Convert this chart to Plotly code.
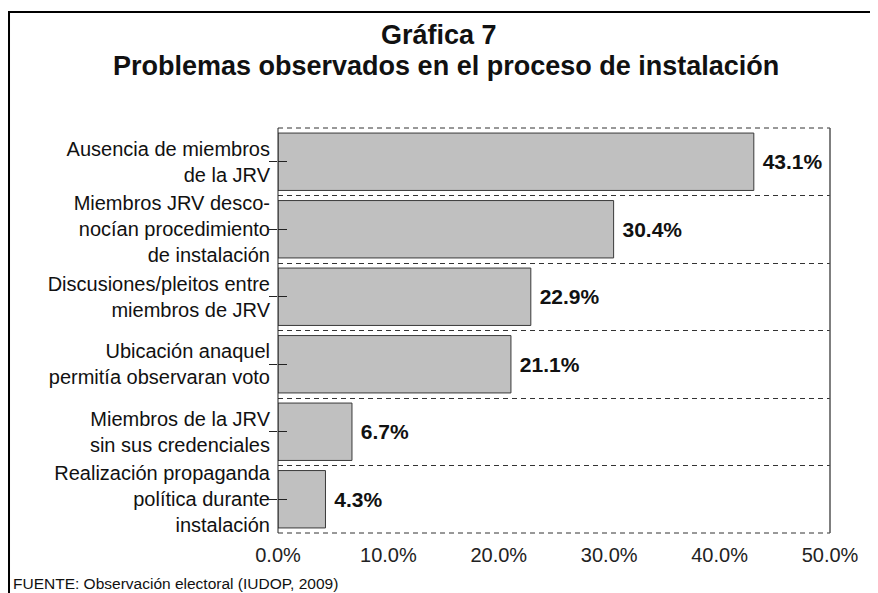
import plotly.graph_objects as go

categorias = [
    "Ausencia de miembros<br>de la JRV",
    "Miembros JRV desco-<br>nocían procedimiento<br>de instalación",
    "Discusiones/pleitos entre<br>miembros de JRV",
    "Ubicación anaquel<br>permitía observaran voto",
    "Miembros de la JRV<br>sin sus credenciales",
    "Realización propaganda<br>política durante<br>instalación",
]
porcentajes = [43.1, 30.4, 22.9, 21.1, 6.7, 4.3]
posiciones = list(range(len(categorias)))
x_ticks = [0, 10, 20, 30, 40, 50]

FONT = "Liberation Sans, Arial, sans-serif"
DASH = dict(color="#333", width=1, dash="5px,4px")

fig = go.Figure()
fig.add_trace(go.Bar(
    x=porcentajes, y=posiciones, orientation="h",
    width=0.85,
    marker=dict(color="#c0c0c0", line=dict(color="#3a3a3a", width=1)),
    text=[f"\u00a0<b>{v:.1f}%</b>" for v in porcentajes],
    textposition="outside",
    textfont=dict(size=21, color="#111", family=FONT),
    cliponaxis=False,
    showlegend=False,
))
# invisible trace so the second axis (inside half of the y ticks) is drawn
fig.add_trace(go.Scatter(x=[None], y=[None], yaxis="y2", showlegend=False, hoverinfo="skip"))

# page body has an 8px margin, so the figure is 8px smaller than the window
fig.update_layout(
    width=870, height=585,
    margin=dict(l=270, r=48, t=120, b=60),
    paper_bgcolor="white", plot_bgcolor="white",
    font=dict(family=FONT, color="#111"),
    xaxis=dict(
        range=[0, 50], tickvals=x_ticks,
        ticktext=[f"{v:.1f}%" for v in x_ticks],
        showgrid=False, zeroline=False, showline=False,
        ticks="", ticklabelstandoff=8,
        tickfont=dict(size=20, color="#222"),
    ),
    yaxis=dict(
        range=[5.5, -0.5], tickvals=posiciones, ticktext=categorias,
        showgrid=False, zeroline=False, showline=False,
        ticks="outside", ticklen=8, tickcolor="#222", tickwidth=1,
        ticklabelstandoff=-5,
        tickfont=dict(size=20, color="#111"),
        minor=dict(tickvals=[p + 0.5 for p in posiciones[:-1]],
                   showgrid=True, gridcolor="#333", griddash="5px,4px",
                   gridwidth=1, ticks=""),
    ),
    yaxis2=dict(
        overlaying="y", side="left", range=[5.5, -0.5],
        tickvals=posiciones, showticklabels=False,
        ticks="inside", ticklen=9, tickcolor="#222",
        showgrid=False, zeroline=False, showline=False,
    ),
    shapes=[
        dict(type="line", xref="paper", yref="paper", x0=0, x1=1, y0=1, y1=1, line=DASH),
        dict(type="line", xref="paper", yref="paper", x0=0, x1=1, y0=0, y1=0, line=DASH),
        dict(type="line", xref="paper", yref="paper", x0=0, x1=0, y0=0, y1=1,
             line=dict(color="#222", width=1)),
        dict(type="line", xref="paper", yref="paper", x0=1, x1=1, y0=0, y1=1,
             line=dict(color="#555", width=1.5)),
        dict(type="rect", xref="paper", yref="paper", x0=-0.4873, x1=1.2,
             y0=-0.3, y1=1.2864, line=dict(color="black", width=2)),
    ],
    annotations=[
        dict(text="<b>Gráfica 7</b>", xref="paper", yref="paper",
             x=0.2917, y=1.2296, xanchor="center", yanchor="middle",
             showarrow=False, font=dict(size=27, color="#111")),
        dict(text="<b>Problemas observados en el proceso de instalación</b>",
             xref="paper", yref="paper", x=0.3043, y=1.153,
             xanchor="center", yanchor="middle",
             showarrow=False, font=dict(size=27, color="#111")),
        dict(text="FUENTE: Observación electoral (IUDOP, 2009)", xref="paper",
             yref="paper", x=-0.4835, y=-0.1235, xanchor="left", yanchor="middle",
             showarrow=False, font=dict(size=15.5, color="#111")),
    ],
)

fig.write_html("out.html")
